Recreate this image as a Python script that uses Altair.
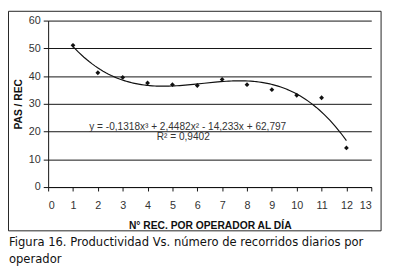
import altair as alt
import pandas as pd

# Data
recorridos = [1, 2, 3, 4, 5, 6, 7, 8, 9, 10, 11, 12]
pas_rec = [51.1, 41.2, 39.5, 37.5, 36.9, 36.6, 38.8, 36.9, 35.1, 33.1, 32.2, 14.1]

x_ticks = list(range(0, 14))
y_ticks = [0, 10, 20, 30, 40, 50, 60]

x_title = "N° REC. POR OPERADOR AL DÍA"
y_title = "PAS / REC"
equation = "y = -0,1318x³ + 2,4482x²   - 14,233x + 62,797"
r2_text = "R² = 0,9402"
caption_1 = "Figura 16. Productividad Vs. número de recorridos diarios por"
caption_2 = "operador"

df = pd.DataFrame({"x": recorridos, "y": pas_rec})
one = pd.DataFrame({"a": [0]})

xs = alt.Scale(domain=[0, 13], nice=False, zero=False)
ys = alt.Scale(domain=[0, 60], nice=False)

x_axis = alt.Axis(values=x_ticks, grid=False, tickSize=4, labelPadding=9,
                  title=x_title, titlePadding=10, labelAngle=0, labelOverlap=False)
y_axis = alt.Axis(values=y_ticks, grid=True, tickSize=5, labelPadding=3,
                  title=y_title, titlePadding=5, labelOverlap=False)

X = alt.X("x:Q", scale=xs, axis=x_axis)
Y = alt.Y("y:Q", scale=ys, axis=y_axis)

base = alt.Chart(df)

points = base.mark_point(shape="diamond", filled=True, size=24, color="#111", opacity=1).encode(
    x=X, y=Y,
)

trend = base.transform_regression("x", "y", method="poly", order=3).mark_line(
    color="#111", strokeWidth=1.2
).encode(
    x=X, y=Y,
)

border = alt.Chart(one).mark_rect(fill=None, stroke="#222", strokeWidth=1).encode(
    x=alt.value(-40.5), x2=alt.value(340), y=alt.value(-9.5), y2=alt.value(214.7)
)

eq = alt.Chart(one).mark_text(align="left", baseline="alphabetic", font="Liberation Sans",
                              fontSize=10.3, color="#333").encode(
    x=alt.value(42), y=alt.value(111.3), text=alt.value(equation)
)
r2 = alt.Chart(one).mark_text(align="left", baseline="alphabetic", font="Liberation Sans",
                              fontSize=10.3, color="#333").encode(
    x=alt.value(111), y=alt.value(122.3), text=alt.value(r2_text)
)
cap1 = alt.Chart(one).mark_text(align="left", baseline="alphabetic", font="DejaVu Sans",
                                fontSize=11.8, color="#111").encode(
    x=alt.value(-40), y=alt.value(230), text=alt.value(caption_1)
)
cap2 = alt.Chart(one).mark_text(align="left", baseline="alphabetic", font="DejaVu Sans",
                                fontSize=11.8, color="#111").encode(
    x=alt.value(-40), y=alt.value(247.7), text=alt.value(caption_2)
)

chart = alt.layer(border, trend, points, eq, r2, cap1, cap2).properties(
    width=330, height=170,
    autosize=alt.AutoSizeParams(type="none"),
    padding={"left": 41, "top": 10, "right": 14, "bottom": 90},
    background="white",
).configure_view(stroke=None).configure_axis(
    domainColor="#111", tickColor="#111", gridColor="#111", gridOpacity=1,
    gridWidth=1, domainWidth=1, tickWidth=1,
    labelColor="#333", labelFont="Liberation Sans", labelFontSize=11,
    titleFont="Liberation Sans", titleFontSize=10.5, titleFontWeight="bold",
    titleColor="#111",
)

chart.save("out.html", embed_options={"renderer": "svg", "actions": False})
